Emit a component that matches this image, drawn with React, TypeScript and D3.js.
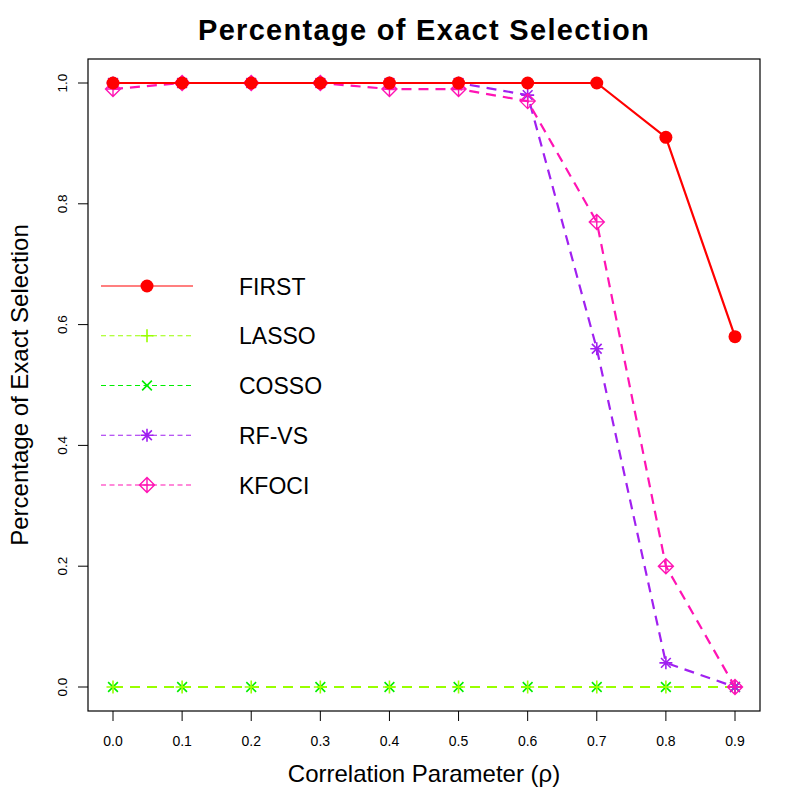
import React from 'react'
import * as d3 from 'd3'

const rho = [0, 0.1, 0.2, 0.3, 0.4, 0.5, 0.6, 0.7, 0.8, 0.9]
const firstVals = [1, 1, 1, 1, 1, 1, 1, 1, 0.91, 0.58]
const lassoVals = [0, 0, 0, 0, 0, 0, 0, 0, 0, 0]
const cossoVals = [0, 0, 0, 0, 0, 0, 0, 0, 0, 0]
const rfvsVals = [1, 1, 1, 1, 1, 1, 0.98, 0.56, 0.04, 0]
const kfociVals = [0.99, 1, 1, 1, 0.99, 0.99, 0.97, 0.77, 0.2, 0]
const xTicks = [0, 0.1, 0.2, 0.3, 0.4, 0.5, 0.6, 0.7, 0.8, 0.9]
const yTicks = [0, 0.2, 0.4, 0.6, 0.8, 1.0]

type Shape = 'dot' | 'plus' | 'cross' | 'star' | 'diamond'

const series = [
  { name: 'FIRST', values: firstVals, color: '#ff0000', shape: 'dot' as Shape, dashed: false },
  { name: 'LASSO', values: lassoVals, color: '#99ff00', shape: 'plus' as Shape, dashed: true },
  { name: 'COSSO', values: cossoVals, color: '#00ee00', shape: 'cross' as Shape, dashed: true },
  { name: 'RF-VS', values: rfvsVals, color: '#a020f0', shape: 'star' as Shape, dashed: true },
  { name: 'KFOCI', values: kfociVals, color: '#ff14b4', shape: 'diamond' as Shape, dashed: true },
]
// painting order: FIRST ends up on top
const drawOrder = ['COSSO', 'LASSO', 'RF-VS', 'KFOCI', 'FIRST']

const FONT = 'Liberation Sans, Arial, Helvetica, sans-serif'
const box = { left: 88, top: 59, right: 760, bottom: 711 }

function Marker({ shape, x, y, color }: { shape: Shape; x: number; y: number; color: string }) {
  const s = 6.5
  const d = s * 0.75
  if (shape === 'dot') return <circle cx={x} cy={y} r={6.5} fill={color} />
  const plus = `M${x - s},${y}H${x + s}M${x},${y - s}V${y + s}`
  const cross = `M${x - d},${y - d}L${x + d},${y + d}M${x - d},${y + d}L${x + d},${y - d}`
  if (shape === 'plus') return <path d={plus} stroke={color} strokeWidth={1.6} fill="none" />
  if (shape === 'cross') return <path d={cross} stroke={color} strokeWidth={1.6} fill="none" />
  if (shape === 'star') return <path d={plus + cross} stroke={color} strokeWidth={1.6} fill="none" />
  const r = 7.5
  const dia = `M${x},${y - r}L${x + r},${y}L${x},${y + r}L${x - r},${y}Z`
  return <path d={dia + plus} stroke={color} strokeWidth={1.4} fill="none" />
}

export default function App() {
  const x = d3.scaleLinear().domain([0, 0.9]).range([113, 735])
  const y = d3.scaleLinear().domain([0, 1]).range([687, 83])
  const line = d3.line<number>().x((_, i) => x(rho[i])).y(v => y(v))
  const cx = (box.left + box.right) / 2
  const cy = (box.top + box.bottom) / 2
  const legendY = d3.scaleLinear().domain([0, 4]).range([286, 485])

  return (
    <svg width={800} height={800} style={{ position: 'absolute', left: 0, top: 0, background: '#fff' }} fontFamily={FONT}>
      <rect x={0} y={0} width={800} height={800} fill="#fff" />
      <text x={cx} y={40} textAnchor="middle" fontSize={29} fontWeight="bold" letterSpacing={1.3}>Percentage of Exact Selection</text>

      {drawOrder.map(n => {
        const s = series.find(d => d.name === n)!
        return (
          <g key={n}>
            <path d={line(s.values) ?? ''} fill="none" stroke={s.color} strokeWidth={2.2}
              strokeDasharray={s.dashed ? '10,7' : undefined} />
            {s.values.map((v, i) => <Marker key={i} shape={s.shape} x={x(rho[i])} y={y(v)} color={s.color} />)}
          </g>
        )
      })}

      <rect x={box.left} y={box.top} width={box.right - box.left} height={box.bottom - box.top}
        fill="none" stroke="#000" strokeWidth={1.2} />

      {xTicks.map(t => (
        <g key={t}>
          <line x1={x(t)} x2={x(t)} y1={box.bottom} y2={box.bottom + 10} stroke="#000" />
          <text x={x(t)} y={746} textAnchor="middle" fontSize={14}>{t.toFixed(1)}</text>
        </g>
      ))}
      {yTicks.map(t => (
        <g key={t}>
          <line x1={box.left - 10} x2={box.left} y1={y(t)} y2={y(t)} stroke="#000" />
          <text transform={`translate(67,${y(t)}) rotate(-90)`} textAnchor="middle" fontSize={13.5}>{t.toFixed(1)}</text>
        </g>
      ))}

      <text x={cx} y={782} textAnchor="middle" fontSize={24}>Correlation Parameter (ρ)</text>
      <text transform={`translate(28,${cy}) rotate(-90)`} textAnchor="middle" fontSize={24}>Percentage of Exact Selection</text>

      {series.map((s, i) => {
        const ly = legendY(i)
        return (
          <g key={s.name}>
            <line x1={101} x2={193} y1={ly} y2={ly} stroke={s.color} strokeWidth={1.2}
              strokeDasharray={s.dashed ? '5,3.5' : undefined} />
            <Marker shape={s.shape} x={147} y={ly} color={s.color} />
            <text x={239} y={ly + 8.5} fontSize={23}>{s.name}</text>
          </g>
        )
      })}
    </svg>
  )
}
